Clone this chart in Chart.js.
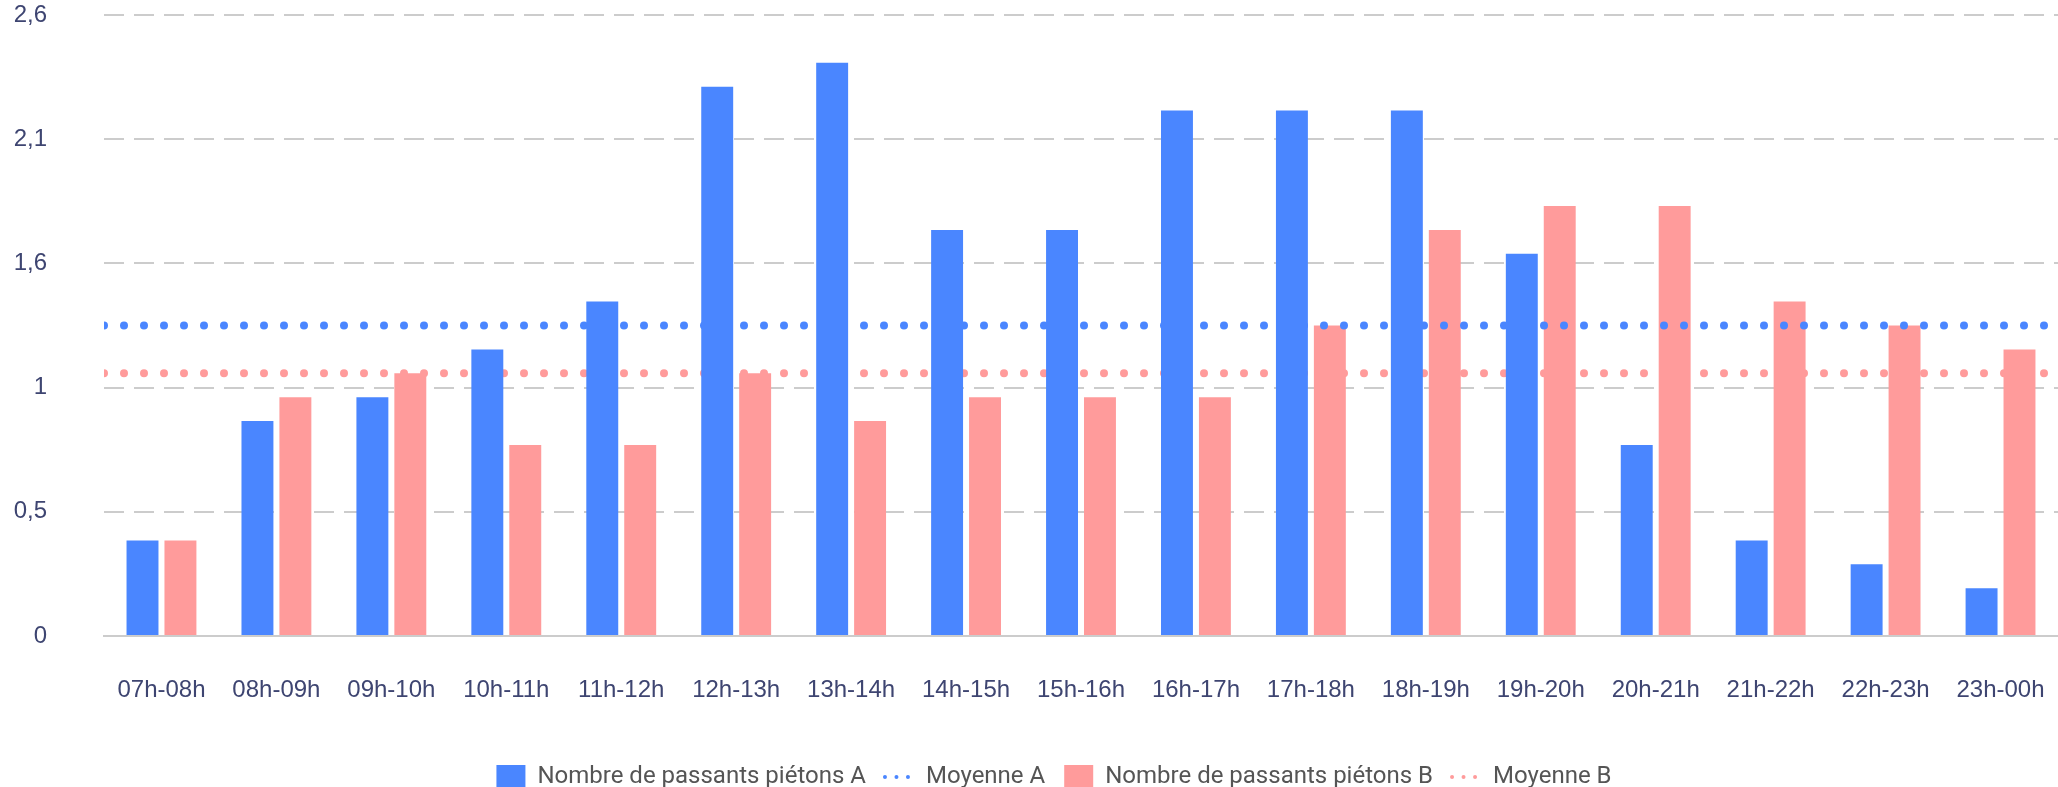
<!DOCTYPE html>
<html>
<head>
<meta charset="utf-8">
<script src="https://cdn.jsdelivr.net/npm/chart.js@4"></script>
<style>
  html, body { margin: 0; padding: 0; background: #fff; overflow: hidden; }
  #wrap { position: relative; width: 2058px; height: 800px; }
</style>
</head>
<body>
<div id="wrap"><canvas id="passantsChart"></canvas></div>
<script>
// Tranches horaires
const labels = ['07h-08h', '08h-09h', '09h-10h', '10h-11h', '11h-12h', '12h-13h', '13h-14h', '14h-15h', '15h-16h',
  '16h-17h', '17h-18h', '18h-19h', '19h-20h', '20h-21h', '21h-22h', '22h-23h', '23h-00h'];

// Nombre de passants piétons
const pietonsA = [0.4, 0.9, 1.0, 1.2, 1.4, 2.3, 2.4, 1.7, 1.7, 2.2, 2.2, 2.2, 1.6, 0.8, 0.4, 0.3, 0.2];
const pietonsB = [0.4, 1.0, 1.1, 0.8, 0.8, 1.1, 0.9, 1.0, 1.0, 1.0, 1.3, 1.7, 1.8, 1.8, 1.4, 1.3, 1.2];

// Moyennes
const moyenneA = 1.3;
const moyenneB = 1.1;

// Graduations de l'axe Y
const yTicks = [0, 0.52, 1.04, 1.56, 2.08, 2.6];

const blue = '#4a86ff';
const pink = '#ff9b9b';
const tickColor = '#3e4571';

function formatTick(v) {
  return String(Math.round(v * 10) / 10).replace('.', ',');
}

// la moyenne couvre toute la largeur : du bord de la 1re tranche au bord de la dernière
function avgLine(value) {
  return [{ x: -0.5, y: value }, { x: labels.length - 0.5, y: value }];
}

// petit décalage de la légende vers la droite
const legendShift = {
  id: 'legendShift',
  afterLayout(chart) {
    chart.legend.left += 25;
    chart.legend.right += 25;
  }
};

const ctx = document.getElementById('passantsChart').getContext('2d');

new Chart(ctx, {
  type: 'bar',
  data: {
    labels: labels,
    datasets: [
      {
        label: 'Nombre de passants piétons A',
        data: pietonsA,
        backgroundColor: blue,
        barPercentage: 0.842,
        categoryPercentage: 0.66
      },
      {
        type: 'line',
        label: 'Moyenne A',
        data: avgLine(moyenneA),
        parsing: false,
        borderColor: blue,
        backgroundColor: blue,
        borderWidth: 8,
        borderDash: [0, 20],
        borderCapStyle: 'round',
        pointRadius: 0,
        fill: false
      },
      {
        label: 'Nombre de passants piétons B',
        data: pietonsB,
        backgroundColor: pink,
        barPercentage: 0.842,
        categoryPercentage: 0.66
      },
      {
        type: 'line',
        label: 'Moyenne B',
        data: avgLine(moyenneB),
        parsing: false,
        borderColor: pink,
        backgroundColor: pink,
        borderWidth: 8,
        borderDash: [0, 20],
        borderCapStyle: 'round',
        pointRadius: 0,
        fill: false
      }
    ]
  },
  options: {
    responsive: true,
    maintainAspectRatio: false,
    animation: false,
    layout: {
      padding: { left: 0, right: 0, top: 3, bottom: 1 },
      autoPadding: false
    },
    scales: {
      x: {
        min: 0,
        max: labels.length - 1,
        grid: { display: false, drawTicks: false },
        border: { display: true, color: '#cccccc', width: 2 },
        ticks: {
          color: tickColor,
          font: { family: 'Liberation Sans', size: 24 },
          padding: 40,
          maxRotation: 0,
          autoSkip: false
        },
        afterFit: function (scale) {
          scale.height = 110;
          scale.paddingLeft = 0;
          scale.paddingRight = 0;
        }
      },
      y: {
        min: 0,
        max: 2.6,
        afterBuildTicks: function (scale) {
          scale.ticks = yTicks.map(v => ({ value: v }));
        },
        afterFit: function (scale) {
          scale.width = 104;
          scale.paddingTop = 15;
          scale.paddingBottom = 12;
        },
        grid: { color: '#cccccc', lineWidth: 2, drawTicks: false },
        border: { display: false, dash: [20, 10] },
        ticks: {
          color: tickColor,
          font: { family: 'Liberation Sans', size: 24 },
          padding: 57,
          callback: function (value) {
            return formatTick(value);
          }
        }
      }
    },
    plugins: {
      tooltip: { enabled: false },
      legend: {
        position: 'bottom',
        labels: {
          usePointStyle: true,
          pointStyleWidth: 29,
          boxHeight: 24,
          padding: 19,
          color: '#555555',
          font: { family: 'Roboto', size: 24 },
          generateLabels: function (chart) {
            const items = Chart.defaults.plugins.legend.labels.generateLabels(chart);
            items.forEach(item => {
              const ds = chart.data.datasets[item.datasetIndex];
              if (ds.type === 'line') {
                item.pointStyle = 'line';
                item.lineWidth = 4;
                item.lineDash = [0, 11.5];
                item.lineCap = 'round';
                item.strokeStyle = ds.borderColor;
              } else {
                item.pointStyle = 'rect';
                item.lineWidth = 0;
              }
            });
            return items;
          }
        }
      }
    }
  },
  plugins: [legendShift]
});
</script>
</body>
</html>
